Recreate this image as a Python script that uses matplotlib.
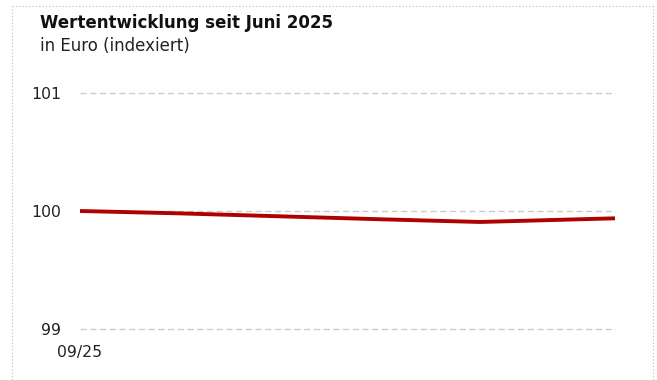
import matplotlib.pyplot as plt
from matplotlib.lines import Line2D

# index values (start 09/25)
x_idx = [0, 100, 200, 300, 400, 535]
values = [100.0, 99.98, 99.955, 99.93, 99.907, 99.938]
y_ticks = [99, 100, 101]
x_tick_pos = [0]
x_tick_labels = ["09/25"]

title = "Wertentwicklung seit Juni 2025"
subtitle = "in Euro (indexiert)"

plt.rcParams['font.family'] = ['DejaVu Sans']

fig = plt.figure(figsize=(6.57, 3.8), dpi=100)
ax = fig.add_axes([80 / 657, 1 - 329 / 380, (615 - 80) / 657, (329 - 93) / 380])

ax.plot(x_idx, values, color="#b00000", linewidth=2.8, solid_capstyle="butt", zorder=3)

ax.set_ylim(99, 101)
ax.set_xlim(x_idx[0], x_idx[-1])
ax.set_yticks(y_ticks)
ax.set_yticklabels([str(v) for v in y_ticks])
ax.set_xticks(x_tick_pos)
ax.set_xticklabels(x_tick_labels)
ax.tick_params(axis="both", length=0, labelsize=11.3, colors="#222222")
ax.tick_params(axis="y", pad=13.5)
ax.tick_params(axis="x", pad=11.5)
ax.grid(axis="y", color="#cccccc", linestyle=(0, (4.5, 2.5)), linewidth=1)
for gl in ax.get_ygridlines():
    gl.set_clip_on(False)
for s in ax.spines.values():
    s.set_visible(False)

fig.text(40 / 657, 1 - 23 / 380, title, fontsize=12, fontweight="bold", va="center", color="#111111")
fig.text(40 / 657, 1 - 46 / 380, subtitle, fontsize=12, va="center", color="#222222")

# dotted frame around the chart
border = dict(color="#bbbbbb", linestyle=(0, (1, 2)), linewidth=0.8, transform=fig.transFigure)
fig.add_artist(Line2D([12 / 657, 653 / 657], [1 - 6 / 380, 1 - 6 / 380], **border))
fig.add_artist(Line2D([12 / 657, 12 / 657], [0, 1 - 6 / 380], **border))
fig.add_artist(Line2D([653 / 657, 653 / 657], [0, 1 - 6 / 380], **border))

fig.savefig("out.png", dpi=100)
